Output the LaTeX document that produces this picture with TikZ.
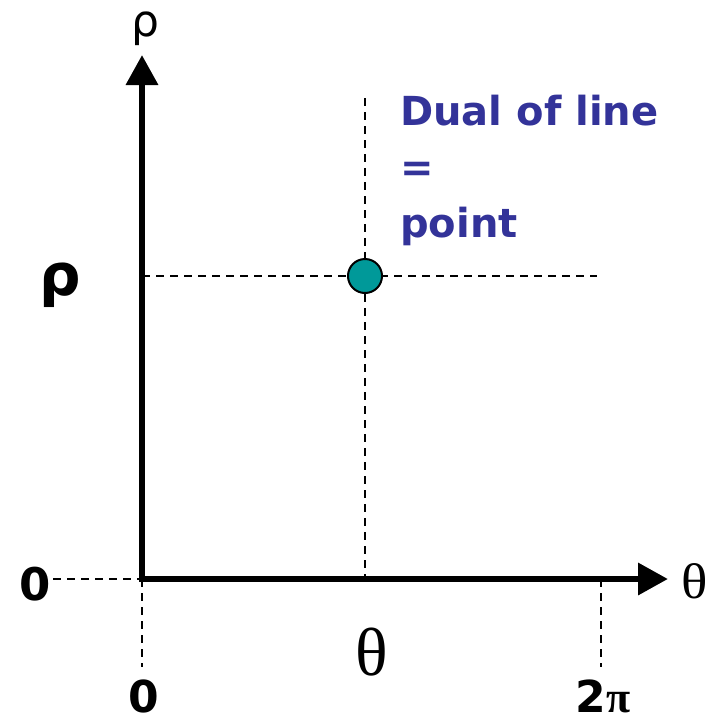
\documentclass[tikz,border=0pt]{standalone}
\usepackage{fontspec}
\setmainfont{DejaVu Sans}
\newfontfamily\serifgr{Liberation Serif}
\usetikzlibrary{arrows.meta}
\definecolor{dualblue}{HTML}{333399}
\definecolor{teal}{HTML}{009999}
\tikzset{
  axis/.style={line width=6.5pt, line join=miter, {Triangle[length=30pt,width=31pt]}-{Triangle[length=30pt,width=31pt]}},
  guide/.style={line width=2.2pt, dash pattern=on 8pt off 6pt},
  lab/.style={inner sep=0pt, anchor=base, text=black},
  dual/.style={inner sep=0pt, anchor=base west, text=dualblue, font=\fontsize{40}{48}\selectfont\bfseries},
  pt/.style={circle, draw=black, line width=2pt, fill=teal, minimum size=34pt, inner sep=0pt}
}
\begin{document}
\begin{tikzpicture}[x=1pt,y=-1pt]
\useasboundingbox (0,0) rectangle (723,724);
\coordinate (O) at (142,579);
\coordinate (ytip) at (142,55);
\coordinate (xtip) at (668,579);
\coordinate (ozero) at (53,579);
\coordinate (obot) at (142,667);
\coordinate (twopitop) at (601,579);
\coordinate (twopibot) at (601,667);
\coordinate (vtop) at (365,98);
\coordinate (vbot) at (365,579);
\coordinate (hleft) at (142,276);
\coordinate (hright) at (597,276);
% guides
\draw[guide] (ozero) -- (O);
\draw[guide] (O) -- (obot);
\draw[guide] (twopitop) -- (twopibot);
\draw[guide] (vtop) -- (vbot);
\draw[guide] (hleft) -- (hright);
% axes
\draw[axis] (ytip) -- (O) -- (xtip);
% point
\node[pt] (P) at (365,276) {};
% labels
\node[lab, font=\fontsize{44}{50}\selectfont] (rhotop) at (145,36) {ρ};
\node[lab, font=\fontsize{58}{64}\selectfont\bfseries] (rholeft) at (60,295) {ρ};
\node[lab, font=\fontsize{50}{58}\selectfont\serifgr, xscale=1.1] (thetaright) at (695,598) {θ};
\node[lab, font=\fontsize{68}{76}\selectfont\serifgr] (thetamid) at (372,675) {θ};
\node[lab, font=\fontsize{45}{52}\selectfont\bfseries] (zeroleft) at (35,600) {0};
\node[lab, font=\fontsize{44}{52}\selectfont\bfseries] (zerobot) at (144,712) {0};
\node[lab, font=\fontsize{44}{52}\selectfont\bfseries] (twopi) at (603,712) {2{\serifgr π}};
\node[dual] (d1) at (400,125) {Dual of line};
\node[dual] (d2) at (400,181) {=};
\node[dual] (d3) at (400,237) {point};
\end{tikzpicture}
\end{document}
